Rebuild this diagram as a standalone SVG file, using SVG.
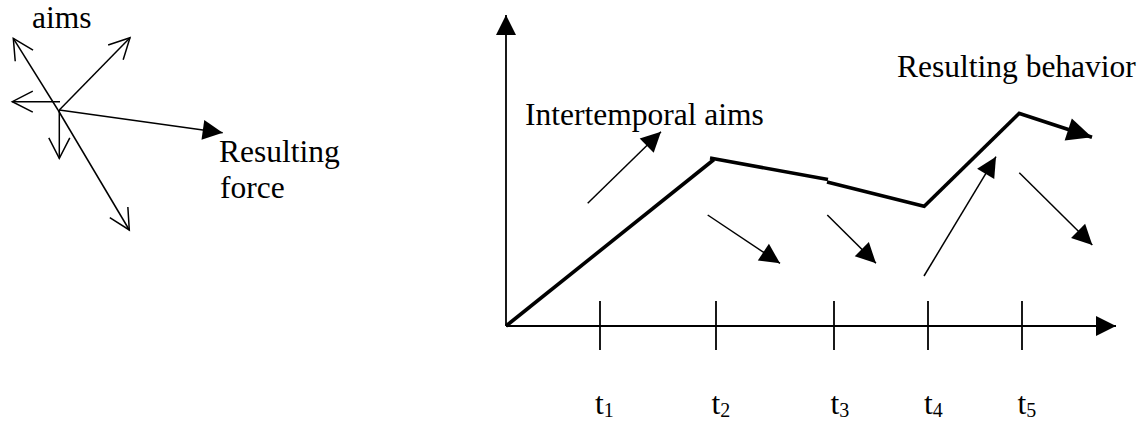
<svg xmlns="http://www.w3.org/2000/svg" width="1146" height="421" viewBox="0 0 1146 421">
<style>
text{font-family:'Liberation Serif','Times New Roman',serif;font-size:31.5px;fill:#000}
.s{font-size:20px}
.thin{stroke:#000;stroke-width:1.5;fill:none}
.axis{stroke:#000;stroke-width:1.8;fill:none}
.thick{stroke:#000;stroke-width:3.6;fill:none;stroke-linecap:butt}
</style>
<defs>
<marker id="open" markerUnits="userSpaceOnUse" markerWidth="24" markerHeight="24" refX="20.5" refY="10.5" orient="auto" overflow="visible">
<path d="M0,0 L20.5,10.5 L0,21" fill="none" stroke="#000" stroke-width="1.5"/>
</marker>
<marker id="fill" markerUnits="userSpaceOnUse" markerWidth="20" markerHeight="20" refX="20" refY="10" orient="auto" overflow="visible">
<path d="M0,0 L20,10 L0,20 z" fill="#000"/>
</marker>
<marker id="big" markerUnits="userSpaceOnUse" markerWidth="25" markerHeight="23" refX="25" refY="11.5" orient="auto" overflow="visible">
<path d="M0,0 L25,11.5 L0,23 z" fill="#000"/>
</marker>
</defs>

<g id="forces">
<line class="thin" x1="58" y1="110" x2="13.3" y2="38.3" marker-end="url(#open)"/>
<line class="thin" x1="58" y1="110" x2="129.3" y2="230" marker-end="url(#open)"/>
<line class="thin" x1="59.3" y1="110" x2="130" y2="37.7" marker-end="url(#open)"/>
<line class="thin" x1="60" y1="101.7" x2="12.3" y2="101.7" marker-end="url(#open)"/>
<line class="thin" x1="59.3" y1="110" x2="59.3" y2="158.3" marker-end="url(#open)"/>
<line class="thin" x1="59.3" y1="110" x2="222.7" y2="132.7" marker-end="url(#fill)"/>
<text x="32" y="28">aims</text>
<text x="219" y="162">Resulting</text>
<text x="220" y="198">force</text>
</g>

<g id="axes">
<line class="axis" x1="506" y1="326" x2="506" y2="15" marker-end="url(#fill)"/>
<line class="axis" x1="506" y1="326" x2="1116" y2="326" marker-end="url(#fill)"/>
<line class="axis" x1="600" y1="301" x2="600" y2="350"/>
<line class="axis" x1="716" y1="301" x2="716" y2="350"/>
<line class="axis" x1="834" y1="301" x2="834" y2="350"/>
<line class="axis" x1="928" y1="301" x2="928" y2="350"/>
<line class="axis" x1="1022" y1="301" x2="1022" y2="350"/>
</g>

<g id="behavior">
<line class="thick" x1="506" y1="326" x2="714" y2="159.5"/>
<line class="thick" x1="710" y1="158" x2="828" y2="179.5"/>
<line class="thick" x1="827" y1="182" x2="925" y2="206.5"/>
<line class="thick" x1="923.5" y1="207" x2="1019.5" y2="113"/>
<line class="thick" x1="1018" y1="113" x2="1092" y2="137.3" marker-end="url(#big)"/>
</g>

<g id="aims">
<line class="thin" x1="587.7" y1="203.3" x2="661" y2="131.7" marker-end="url(#fill)"/>
<line class="thin" x1="707.7" y1="215" x2="780" y2="263.3" marker-end="url(#fill)"/>
<line class="thin" x1="827.3" y1="215" x2="876" y2="263.3" marker-end="url(#fill)"/>
<line class="thin" x1="924" y1="276" x2="996" y2="156.7" marker-end="url(#fill)"/>
<line class="thin" x1="1019.3" y1="172.7" x2="1092.3" y2="245" marker-end="url(#fill)"/>
</g>

<g id="labels">
<text x="525" y="125">Intertemporal aims</text>
<text x="897" y="77">Resulting behavior</text>
<text x="595" y="414">t<tspan class="s" dy="3">1</tspan></text>
<text x="711.5" y="414">t<tspan class="s" dy="3">2</tspan></text>
<text x="830.5" y="414">t<tspan class="s" dy="3">3</tspan></text>
<text x="924" y="414">t<tspan class="s" dy="3">4</tspan></text>
<text x="1017.5" y="414">t<tspan class="s" dy="3">5</tspan></text>
</g>
</svg>
